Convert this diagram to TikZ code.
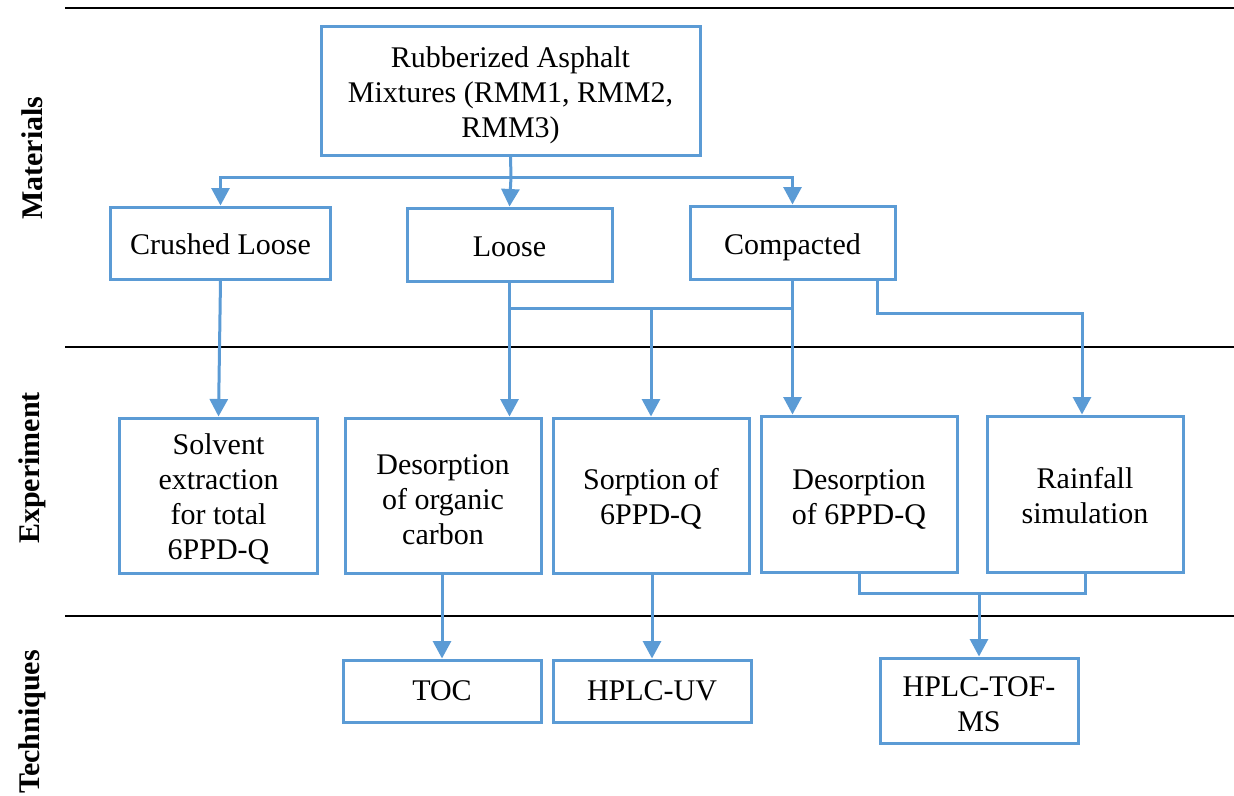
\documentclass[tikz,border=0pt]{standalone}
\usepackage{fontspec}
\setmainfont{Liberation Serif}
\usepackage{xcolor}
\usepackage{tikz}
\usetikzlibrary{arrows.meta,positioning}
\definecolor{wordblue}{RGB}{91,155,213}

\begin{document}
\begin{tikzpicture}[
  x=0.4pt,y=-0.4pt,
  box/.style ={rectangle,draw=wordblue,line width=1.2pt,align=center,
               font=\fontsize{12}{14}\selectfont,inner sep=0pt},
  matbox/.style={box,minimum width=82pt,minimum height=29.2pt,
                 text height=11pt,text depth=1.5pt},
  expbox/.style={box,minimum width=78.4pt,minimum height=62pt},
  techbox/.style={box,minimum width=79.2pt,minimum height=24.8pt},
  arr/.style={-{Triangle[width=7.2pt,length=7pt]},line width=1.2pt,wordblue},
  link/.style={line width=1.2pt,wordblue},
  rule/.style={line width=0.8pt,black},
  sidelab/.style={rotate=90,font=\fontsize{12}{14}\selectfont\bfseries},
]
\useasboundingbox (0,0) rectangle (1234,795);

%% ─── section rules and labels ───────────────────────────────────────────────
\draw[rule] (65,8)   -- (1234,8);
\draw[rule] (65,347) -- (1234,347);
\draw[rule] (65,616) -- (1234,616);
\node[sidelab] (labmat)  at (32,158) {Materials};
\node[sidelab] (labexp)  at (32,468) {Experiment};
\node[sidelab] (labtech) at (32,722) {Techniques};

%% ─── Materials ───────────────────────────────────────────────────────────────
\node[box,minimum width=151.6pt,minimum height=51.6pt] (rmm) at (510.5,90.5)
  {\rule{0pt}{12pt}Rubberized Asphalt\\Mixtures (RMM1, RMM2,\\RMM3)};
\node[matbox,minimum width=87.6pt,minimum height=28.8pt] (crushed) at (220.5,243) {Crushed Loose};
\node[matbox] (loose)   at (509.5,244.5) {Loose};
\node[matbox] (compact) at (792.5,242.5) {Compacted};

\coordinate (split) at (511,177);
\draw[link] (rmm.south) -- (split);
\draw[arr] (split) -| (crushed.north);
\draw[arr] (split) -- (loose.north);
\draw[arr] (split) -| (compact.north);

%% ─── Experiments ─────────────────────────────────────────────────────────────
\node[expbox,minimum width=78.8pt] (solvent) at (218.5,495.5)
  {\rule{0pt}{11pt}Solvent\\extraction\\for total\\6PPD-Q};
\node[expbox] (desorg) at (443,495.5) {\rule{0pt}{11pt}Desorption\\of organic\\carbon};
\node[expbox] (sorp)   at (651,495.5) {\rule{0pt}{11pt}Sorption of\\6PPD-Q};
\node[expbox,minimum height=62.4pt] (desq) at (859,494) {\rule{0pt}{12pt}Desorption\\of 6PPD-Q};
\node[expbox,minimum height=62.4pt] (rain) at (1085,494) {\rule{0pt}{10pt}Rainfall\\simulation};

\draw[arr] (crushed.south) -- (solvent.north);

\coordinate (bus) at (651,308);
\draw[link] (loose.south |- bus) -- (compact.south |- bus);
\draw[arr] (loose.south) -- (loose.south |- desorg.north);
\draw[arr] (bus) -- (sorp.north);
\draw[arr] (compact.south) -- (compact.south |- desq.north);

\coordinate (rbend) at (1082,313);
\draw[arr] ([xshift=33.8pt]compact.south) |- (rbend) -- (rbend |- rain.north);

%% ─── Techniques ──────────────────────────────────────────────────────────────
\node[techbox] (toc)  at (442,691) {TOC};
\node[techbox] (uv)   at (652,691) {HPLC-UV};
\node[techbox,minimum height=34pt] (tof) at (979,700.5) {\rule{0pt}{11pt}HPLC-TOF-\\MS};

\draw[arr] (desorg.south -| toc.north) -- (toc.north);
\draw[arr] (sorp.south) -- (sorp.south -| uv.north) -- (uv.north);

\coordinate (merge) at (979,593);
\draw[link] (desq.south) |- (merge);
\draw[link] (rain.south) |- (merge);
\draw[arr] (merge) -- (tof.north);

\end{tikzpicture}
\end{document}
